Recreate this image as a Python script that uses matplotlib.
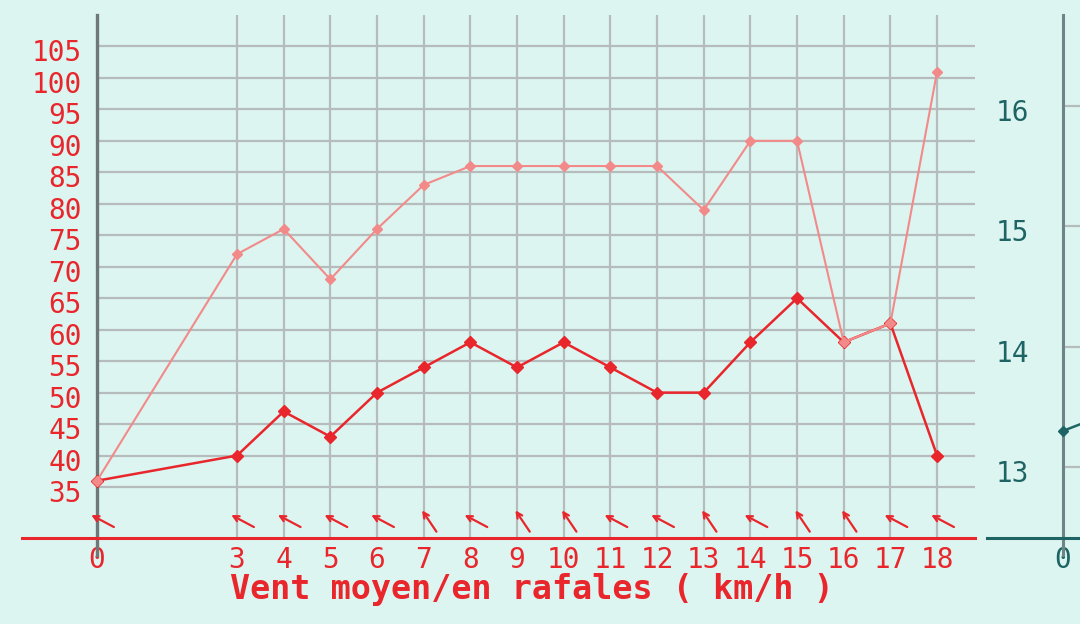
import matplotlib
matplotlib.use('Agg')
import matplotlib.pyplot as plt
from matplotlib.transforms import offset_copy, ScaledTranslation
import numpy as np

# ---- data ----
hours = [0, 3, 4, 5, 6, 7, 8, 9, 10, 11, 12, 13, 14, 15, 16, 17, 18]
x_labels = [str(h) for h in hours]
gusts = [36, 72, 76, 68, 76, 83, 86, 86, 86, 86, 86, 79, 90, 90, 58, 61, 101]
mean_wind = [36, 40, 47, 43, 50, 54, 58, 54, 58, 54, 50, 50, 58, 65, 58, 61, 40]
wind_dir = [118, 118, 118, 118, 118, 146, 118, 146, 146, 118, 118, 146, 118, 146, 146, 118, 118]
y_ticks = list(range(35, 110, 5))
right_ticks = [13, 14, 15, 16]
right_hours = [0, 1]
right_values = [13.3, 13.45]

# ---- style ----
bg = '#dcf5f0'
gridc = '#b6bcbc'
red = '#e8262c'
pink = '#f38a8a'
teal = '#1e6464'
axisgray = '#6e7878'
plt.rcParams['font.family'] = ['DejaVu Sans Mono']

fig = plt.figure(figsize=(10.8, 6.24), dpi=100, facecolor=bg)
W, H = 1080, 624
px_per_unit = 46.67
down = ScaledTranslation(0, -0.04, fig.dpi_scale_trans)

ax = fig.add_axes([97 / W, 86 / H, 878 / W, 523 / H])
ax.set_facecolor(bg)
for s in ax.spines.values():
    s.set_visible(False)
ax.set_xlim(0, 878 / px_per_unit)
ax.set_ylim(26.9, 110.0)
ax.set_xticks(hours)
ax.set_xticklabels(x_labels)
ax.set_yticks(y_ticks)
ax.set_yticklabels([str(v) for v in y_ticks])
ax.grid(True, color=gridc, lw=1.6)
ax.set_axisbelow(True)
ax.tick_params(axis='both', length=0, labelcolor=red, labelsize=20)
ax.tick_params(axis='y', pad=11)
ax.tick_params(axis='x', pad=6)
for lab in ax.get_yticklabels():
    lab.set_transform(lab.get_transform() + down)

# axes lines
ax.plot([0, 0], [-0.033, 1], transform=ax.get_xaxis_transform(), clip_on=False,
        color=axisgray, lw=2.4, zorder=2.5)
ax.plot([-0.0854, 1], [0, 0], transform=ax.transAxes, clip_on=False,
        color=red, lw=2.2, zorder=2.6)

# series
ax.plot(hours, mean_wind, color=red, lw=1.8, marker='D', ms=6, zorder=3, clip_on=False)
ax.plot(hours, gusts, color=pink, lw=1.5, marker='D', ms=5.5, zorder=4, clip_on=False)

# wind direction arrows
L = 18.5
arrow_y = 29.6
for h, d in zip(hours, wind_dir):
    bt = np.radians(d + 180)
    ux, uy = np.sin(bt), np.cos(bt)
    tr = offset_copy(ax.transData, fig=fig, x=ux * L / 2 + 4, y=uy * L / 2, units='points')
    ax.annotate('', xy=(h, arrow_y), xycoords=tr, xytext=(-ux * L, -uy * L),
                textcoords='offset points',
                arrowprops=dict(arrowstyle='->', color=red, lw=1.6, shrinkA=0, shrinkB=0,
                                mutation_scale=10), zorder=5)

fig.text(532 / W, 1 - 590 / H, 'Vent moyen/en rafales ( km/h )', color=red, fontsize=24,
         fontweight='bold', ha='center', va='center')

# ---- partial right panel ----
ax2 = fig.add_axes([1063 / W, 86 / H, 300 / W, 523 / H])
ax2.set_facecolor('none')
for s in ax2.spines.values():
    s.set_visible(False)
ax2.set_xlim(0, 300 / px_per_unit)
ax2.set_ylim(12.41, 16.756)
ax2.set_yticks(right_ticks)
ax2.set_yticklabels([str(v) for v in right_ticks])
ax2.set_xticks([0])
ax2.set_xticklabels(['0'])
ax2.grid(True, axis='y', color=gridc, lw=1.6)
ax2.set_axisbelow(True)
ax2.tick_params(axis='both', length=0, labelcolor=teal, labelsize=20)
ax2.tick_params(axis='y', pad=24)
ax2.tick_params(axis='x', pad=6)
for lab in ax2.get_yticklabels():
    lab.set_transform(lab.get_transform() + down)
ax2.plot([0, 0], [-0.033, 1], transform=ax2.get_xaxis_transform(), clip_on=False,
         color='#6e8585', lw=2.2, zorder=2.5)
ax2.plot([-0.253, 1], [0, 0], transform=ax2.transAxes, clip_on=False,
         color=teal, lw=2.2, zorder=2.6)
ax2.plot(right_hours, right_values, color=teal, lw=1.8, marker='D', ms=5, zorder=3, clip_on=False)

fig.savefig('out.png', dpi=100, facecolor=bg)
